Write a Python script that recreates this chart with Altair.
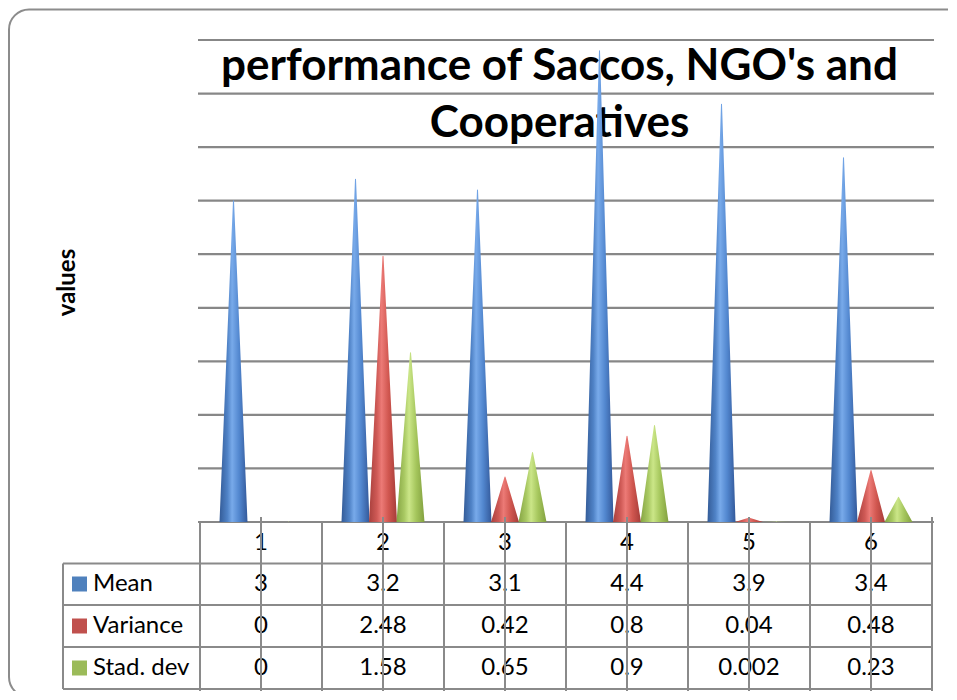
import json
import altair as alt
import pandas as pd

# ---------------- data ----------------
categories = [1, 2, 3, 4, 5, 6]
mean_values = [3, 3.2, 3.1, 4.4, 3.9, 3.4]
variance_values = [0, 2.48, 0.42, 0.8, 0.04, 0.48]
std_values = [0, 1.58, 0.65, 0.9, 0.002, 0.23]
series_names = ["Mean", "Variance", "Stad. dev"]
series_colors = ["#4F81BD", "#C0504D", "#9BBB59"]
gridline_values = [0, 0.5, 1, 1.5, 2, 2.5, 3, 3.5, 4, 4.5]
title_lines = ["performance of Saccos, NGO's and", "Cooperatives"]
y_title = "values"

records = []
for name, vals in zip(series_names, [mean_values, variance_values, std_values]):
    for c, v in zip(categories, vals):
        records.append({"cat": c, "series": name, "value": v, "label": f"{v:g}"})
long_df = pd.DataFrame(records)
cat_df = pd.DataFrame({"cat": categories})
grid_df = pd.DataFrame({"g": gridline_values})
one = pd.DataFrame({"k": [0]})

# ---------------- layout / style ----------------
W, H = 736, 482
COLW = 122.0
FONT = "Lato"
LINE = "#8a8a8a"
x_scale = alt.Scale(domain=[0.5 - 2 / COLW, 6.5 + 2 / COLW], nice=False, zero=False)
y_scale = alt.Scale(domain=[0, 4.5], nice=False, zero=False)
OFF = 27.5 / COLW
row_y = [544, 586, 628]
header_y = 503
hline_y = [523.5, 565, 607, 649]
left_x = -135


def X(field):
    return alt.X(field, type="quantitative", scale=x_scale, axis=None)


gradient_stops = {
    "Mean": ["#345c98", "#4f82c6", "#78aaea", "#5287cf", "#33599a"],
    "Variance": ["#a8403d", "#cf5a56", "#ec7a76", "#d0564f", "#a53c39"],
    "Stad. dev": ["#85a443", "#a9c963", "#cbe688", "#a5c65c", "#82a03f"],
}
stop_offsets = [0, 0.28, 0.45, 0.7, 1]


def cone(name):
    grad = alt.Gradient(
        gradient="linear", x1=0, x2=1, y1=0, y2=0,
        stops=[alt.GradientStop(color=c, offset=o)
               for o, c in zip(stop_offsets, gradient_stops[name])],
    )
    return (
        alt.Chart(long_df)
        .transform_filter(alt.datum.series == name)
        .transform_calculate(
            xpos="datum.cat + (indexof(%s, datum.series) - 1) * %f" % (json.dumps(series_names), OFF),
            base="0",
            tip="datum.value",
        )
        .transform_fold(["base", "tip"], as_=["end", "yv"])
        .transform_calculate(w="datum.end == 'base' ? 28 : 0", ord="datum.end == 'base' ? 0 : 1")
        .mark_trail(clip=True, fill=grad, strokeWidth=0)
        .encode(
            x=X("xpos"),
            y=alt.Y("yv:Q", scale=y_scale, axis=None),
            size=alt.Size("w:Q", scale=None),
            detail="cat:N",
            order=alt.Order("ord:Q"),
        )
    )


layers = []

# outer rounded frame
layers.append(
    alt.Chart(one).mark_rect(cornerRadius=20, fill="white", stroke="#8c8c8c", strokeWidth=2).encode(
        x=alt.value(-189), x2=alt.value(780), y=alt.value(-30.5), y2=alt.value(657)
    )
)

# gridlines
layers.append(
    alt.Chart(grid_df).mark_rule(color="#878787", strokeWidth=2.2).encode(
        y=alt.Y("g:Q", scale=y_scale, axis=None), x=alt.value(0), x2=alt.value(W)
    )
)

# title (behind cones)
layers.append(
    alt.Chart(one).mark_text(
        text=title_lines, font=FONT, fontSize=44, fontWeight="bold", lineHeight=57,
        align="center", baseline="alphabetic", color="black",
    ).encode(x=alt.value(361.5), y=alt.value(40))
)

# cones
for name in series_names:
    layers.append(cone(name))

# table horizontal lines
for yv in hline_y:
    layers.append(
        alt.Chart(one).mark_rule(color=LINE, strokeWidth=2).encode(
            x=alt.value(left_x), x2=alt.value(734), y=alt.value(yv)
        )
    )
# left border of legend column
layers.append(
    alt.Chart(one).mark_rule(color=LINE, strokeWidth=2).encode(
        x=alt.value(left_x), y=alt.value(hline_y[0]), y2=alt.value(hline_y[-1])
    )
)
# column boundaries
layers.append(
    alt.Chart(cat_df).transform_calculate(b="datum.cat - 0.5").mark_rule(color=LINE, strokeWidth=2).encode(
        x=X("b"), y=alt.value(482), y2=alt.value(660)
    )
)
layers.append(
    alt.Chart(cat_df).transform_filter(alt.datum.cat == max(categories))
    .transform_calculate(b="datum.cat + 0.5").mark_rule(color=LINE, strokeWidth=2).encode(
        x=X("b"), y=alt.value(477), y2=alt.value(660)
    )
)

# header labels
layers.append(
    alt.Chart(cat_df).mark_text(font=FONT, fontSize=24, color="black", baseline="middle").encode(
        x=X("cat"), y=alt.value(header_y), text="cat:N"
    )
)
# value cells, legend swatches and row labels
for i, name in enumerate(series_names):
    layers.append(
        alt.Chart(long_df).transform_filter(alt.datum.series == name)
        .mark_text(font=FONT, fontSize=24, color="black", baseline="middle").encode(
            x=X("cat"), y=alt.value(row_y[i]), text="label:N"
        )
    )
    layers.append(
        alt.Chart(one).mark_square(size=225, filled=True, opacity=1, color=series_colors[i]).encode(
            x=alt.value(-118.5), y=alt.value(row_y[i])
        )
    )
    layers.append(
        alt.Chart(one).mark_text(
            text=name, font=FONT, fontSize=24, color="black", align="left", baseline="middle"
        ).encode(x=alt.value(-105), y=alt.value(row_y[i]))
    )

# category tick lines through the table
layers.append(
    alt.Chart(cat_df).mark_rule(color=LINE, strokeWidth=2).encode(
        x=X("cat"), y=alt.value(477), y2=alt.value(660)
    )
)

# y title
layers.append(
    alt.Chart(one).mark_text(
        text=y_title, font=FONT, fontSize=24, fontWeight="bold", angle=270,
        align="center", baseline="middle", color="black",
    ).encode(x=alt.value(-130.5), y=alt.value(242.5))
)

chart = (
    alt.layer(*layers)
    .properties(
        width=W,
        height=H,
        autosize=alt.AutoSizeParams(type="none"),
        padding={"left": 190, "top": 32, "right": 14, "bottom": 169},
        background="white",
    )
    .configure_view(stroke=None)
)

chart.save("out.html", embed_options={"renderer": "svg", "actions": False})
